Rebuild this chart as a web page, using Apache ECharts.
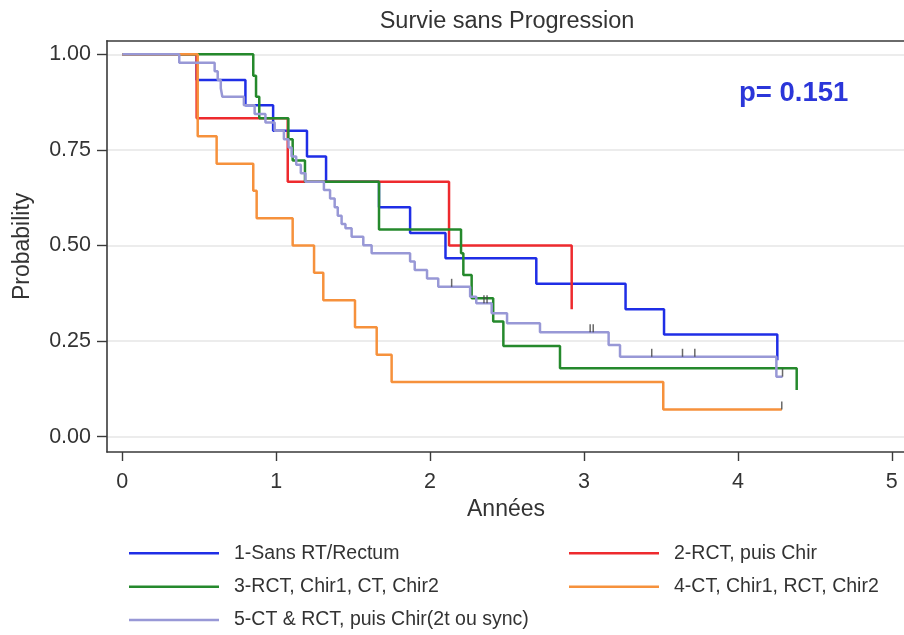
<!DOCTYPE html>
<html><head><meta charset="utf-8">
<script src="https://cdn.jsdelivr.net/npm/echarts@6/dist/echarts.min.js"></script>
<style>html,body{margin:0;padding:0;background:#fff;overflow:hidden;width:904px;height:635px}#c{width:912px;height:635px}</style>
</head><body><div id="c"></div>
<script>
const xTicks = [0, 1, 2, 3, 4, 5];
const yTicks = [0, 0.25, 0.5, 0.75, 1];
const names = ['1-Sans RT/Rectum', '2-RCT, puis Chir', '3-RCT, Chir1, CT, Chir2', '4-CT, Chir1, RCT, Chir2', '5-CT & RCT, puis Chir(2t ou sync)'];
const colors = ['#1f2ee6', '#ee2a2e', '#25892c', '#f6913c', '#9898d6'];

const blueT = [0, 0.483, 0.80, 0.98, 1.20, 1.324, 1.668, 1.87, 2.10, 2.69, 3.27, 3.52, 4.256];
const blueS = [1, 0.933, 0.867, 0.80, 0.733, 0.667, 0.60, 0.533, 0.467, 0.40, 0.333, 0.267, 0.20];

const redT = [0, 0.483, 1.075, 2.123, 2.92];
const redS = [1, 0.833, 0.667, 0.5, 0.333];

const greenT = [0, 0.851, 0.869, 0.89, 1.079, 1.107, 1.187, 1.668, 2.201, 2.216, 2.27, 2.41, 2.476, 2.844, 4.382];
const greenS = [1, 0.944, 0.889, 0.833, 0.778, 0.722, 0.667, 0.542, 0.48, 0.423, 0.362, 0.301, 0.237, 0.179, 0.122];

const orangeT = [0, 0.49, 0.613, 0.851, 0.873, 1.107, 1.246, 1.306, 1.512, 1.653, 1.75, 3.515, 4.285];
const orangeS = [1, 0.786, 0.714, 0.643, 0.571, 0.5, 0.429, 0.357, 0.286, 0.214, 0.143, 0.071, 0.071];

const purpleT = [0, 0.37, 0.60, 0.62, 0.64, 0.65, 0.79, 0.86, 0.93, 0.99, 1.05, 1.08, 1.10, 1.13, 1.16, 1.19,
  1.31, 1.35, 1.38, 1.40, 1.425, 1.45, 1.49, 1.566, 1.62, 1.87, 1.90, 1.98, 2.053, 2.26, 2.30, 2.40, 2.50, 2.714, 3.16, 3.234, 4.25, 4.29];
const purpleS = [1, 0.978, 0.956, 0.933, 0.911, 0.889, 0.867, 0.844, 0.822, 0.800, 0.778, 0.756, 0.733, 0.711, 0.689, 0.667,
  0.645, 0.623, 0.600, 0.578, 0.556, 0.545, 0.523, 0.501, 0.480, 0.458, 0.436, 0.414, 0.392, 0.366, 0.349, 0.323, 0.297, 0.273, 0.240, 0.209, 0.157, 0.157];

const censorT = [2.14, 2.35, 2.37, 3.04, 3.06, 3.44, 3.64, 3.72, 4.29, 4.285];
const censorS = [0.392, 0.349, 0.349, 0.273, 0.273, 0.209, 0.209, 0.209, 0.157, 0.071];

const pText = 'p= 0.151';
const titleText = 'Survie sans Progression';

const FONT = '"Liberation Sans", Arial, Helvetica, sans-serif';
const zip = (a, b) => a.map((v, i) => [v, b[i]]);
const curves = [zip(blueT, blueS), zip(redT, redS), zip(greenT, greenS), zip(orangeT, orangeS), zip(purpleT, purpleS)];

const chart = echarts.init(document.getElementById('c'), null, { renderer: 'canvas' });

const legendBase = {
  icon: 'rect', itemWidth: 90, itemHeight: 2.5, padding: 0, selectedMode: false,
  textStyle: { fontSize: 19.5, fontFamily: FONT, color: '#333', padding: [0, 0, 0, 10], lineHeight: 20 }
};
const legendPos = [[0, 129, 553.3], [2, 129, 586.7], [4, 129, 620], [1, 569, 553.3], [3, 569, 586.7]];

chart.setOption({
  animation: false,
  grid: { left: 107, right: 0, top: 40.7, bottom: 183 },
  xAxis: [{
    type: 'value', min: -0.0994, max: 5.1312,
    name: 'Années', nameLocation: 'middle', nameGap: 42,
    nameTextStyle: { fontSize: 23, fontFamily: FONT, color: '#333', padding: [0, 7, 0, 0] },
    axisLine: { show: true, onZero: false, lineStyle: { color: '#3a3a3a', width: 1.6 } },
    axisTick: { show: true, length: 9, customValues: xTicks, lineStyle: { color: '#3a3a3a', width: 1.4 } },
    axisLabel: { customValues: xTicks, margin: 19, fontSize: 21.5, fontFamily: FONT, color: '#333', formatter: v => String(v) },
    splitLine: { show: false }
  }, {
    type: 'value', position: 'top', min: -0.0994, max: 5.1312,
    axisLine: { show: true, onZero: false, lineStyle: { color: '#3a3a3a', width: 1.6 } },
    axisTick: { show: false }, axisLabel: { show: false }, splitLine: { show: false }
  }],
  yAxis: [{
    type: 'value', min: -0.04, max: 1.0356,
    name: 'Probability', nameLocation: 'middle', nameGap: 73, nameRotate: 90,
    nameTextStyle: { fontSize: 23, fontFamily: FONT, color: '#333' },
    axisLine: { show: true, onZero: false, lineStyle: { color: '#3a3a3a', width: 1.6 } },
    axisTick: { show: true, length: 10, customValues: yTicks, lineStyle: { color: '#3a3a3a', width: 1.4 } },
    axisLabel: { customValues: yTicks, margin: 16, fontSize: 21.5, fontFamily: FONT, color: '#333', formatter: v => v.toFixed(2) },
    splitLine: { show: true, lineStyle: { color: '#e6e6e6', width: 1.5 } }
  }],
  legend: legendPos.map(([i, l, t]) => Object.assign({}, legendBase, { data: [names[i]], left: l, top: t - 10 })),
  graphic: [
    { type: 'text', x: 507, y: 22, style: { text: titleText, font: '23.5px ' + FONT, fill: '#333', align: 'center', verticalAlign: 'middle' } },
    { type: 'text', x: 739, y: 93, style: { text: pText, font: 'bold 27.5px ' + FONT, fill: '#2b36d9', align: 'left', verticalAlign: 'middle' } }
  ],
  series: curves.map((d, i) => ({
    name: names[i], type: 'line', step: 'end', data: d, symbol: 'none', showSymbol: false,
    color: colors[i], lineStyle: { color: colors[i], width: 2.5 }, z: 2 + i, silent: true
  })).concat([{
    type: 'scatter', data: zip(censorT, censorS), symbol: 'rect', symbolSize: [1.5, 8], symbolOffset: [0, -4],
    itemStyle: { color: '#444' }, z: 10, silent: true
  }])
});
</script></body></html>
